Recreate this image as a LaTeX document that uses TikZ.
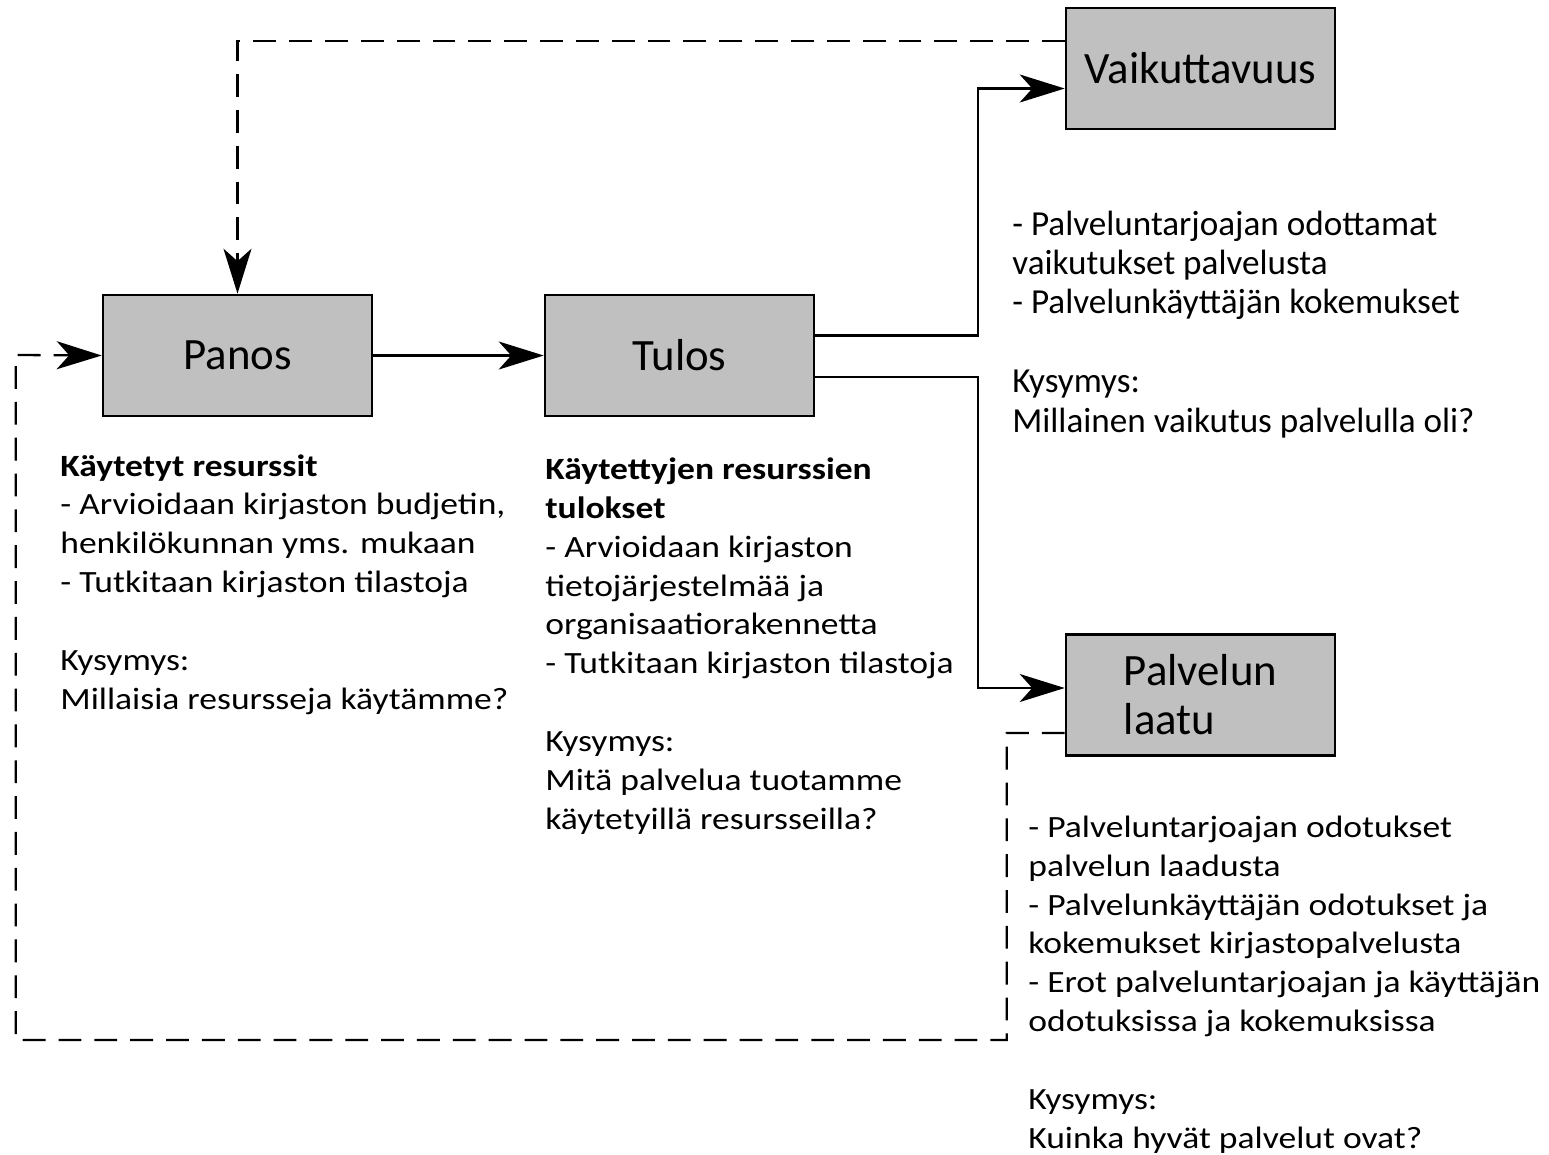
\documentclass[tikz,border=0pt]{standalone}
\usepackage{fontspec}
\setmainfont{Carlito}
\newfontfamily\widefont[FakeStretch=1.15]{Carlito}
\usepackage{tikz}
\usetikzlibrary{arrows.meta,positioning}
\definecolor{boxgray}{RGB}{192,192,192}
\tikzstyle{stage} = [draw, line width=1.5pt, fill=boxgray, minimum width=5.38cm, minimum height=2.42cm, inner sep=0pt, align=left, font=\fontsize{25.5pt}{27.8pt}\selectfont]
\tikzstyle{note} = [anchor=base west, align=left, inner sep=0pt, font=\widefont\fontsize{17.6pt}{22.1pt}\selectfont]
\tikzstyle{notetall} = [note, font=\fontsize{20pt}{22.4pt}\selectfont]
\tikzstyle{arrow} = [draw, line width=1.3pt, -{Stealth[length=0.9cm,width=0.56cm,inset=0.25cm]}]
\tikzstyle{line} = [draw, line width=1.3pt]
\tikzstyle{feedback} = [draw, line width=1.3pt, dash pattern=on 13pt off 7.4pt]
\newcommand{\stagebox}[2]{node (s#1) [stage] {#2}}
\newcommand{\notetext}[2]{node (n#1) [note] {#2}}

\begin{document}
\begin{tikzpicture}[x=0.02cm,y=-0.02cm]
\useasboundingbox (0,0) rectangle (1549,1154);

% stages
\path (237.5,355.5) \stagebox{1}{Panos};
\path (679.5,355.5) \stagebox{2}{Tulos};
\path (1200.5,68.5) \stagebox{3}{Vaikuttavuus};
\path (1200.5,695) \stagebox{4}{Palvelun\\laatu};

% main flow
\path [arrow] (s1.east) -- (s2.west);
\path [arrow] ([yshift=0.4cm]s2.east) -- ++(163,0) |- ([yshift=-0.4cm]s3.west);
\path [arrow] ([yshift=-0.43cm]s2.east) -- ++(163,0) |- ([yshift=0.14cm]s4.west);

% feedback loops
\path [feedback, -{Stealth[length=0.9cm,width=0.56cm,inset=0.25cm]}] ([yshift=0.55cm]s3.west) -| (s1.north);
\path [feedback, -{Stealth[length=0.9cm,width=0.56cm,inset=0.25cm]}] ([yshift=-0.76cm]s4.west) -- ++(-58,0) -- ++(0,307) -| ++(-991,-685) -- (s1.west);

% notes (placed at the baseline of their last line)
\path (60,709) \notetext{1}{\textbf{Käytetyt resurssit}\\- Arvioidaan kirjaston budjetin,\\henkilökunnan yms. mukaan\\- Tutkitaan kirjaston tilastoja\\[22.1pt]Kysymys:\\Millaisia resursseja käytämme?};
\path (545,829) \notetext{2}{\textbf{Käytettyjen resurssien}\\\textbf{tulokset}\\- Arvioidaan kirjaston\\tietojärjestelmää ja\\organisaatiorakennetta\\- Tutkitaan kirjaston tilastoja\\[22.1pt]Kysymys:\\Mitä palvelua tuotamme\\käytetyillä resursseilla?};
\path (1012,432) node (n3) [notetall] {- Palveluntarjoajan odottamat\\vaikutukset palvelusta\\- Palvelunkäyttäjän kokemukset\\[22.4pt]Kysymys:\\Millainen vaikutus palvelulla oli?};
\path (1028,1148) \notetext{4}{- Palveluntarjoajan odotukset\\palvelun laadusta\\- Palvelunkäyttäjän odotukset ja\\kokemukset kirjastopalvelusta\\- Erot palveluntarjoajan ja käyttäjän\\odotuksissa ja kokemuksissa\\[22.1pt]Kysymys:\\Kuinka hyvät palvelut ovat?};
\end{tikzpicture}
\end{document}
